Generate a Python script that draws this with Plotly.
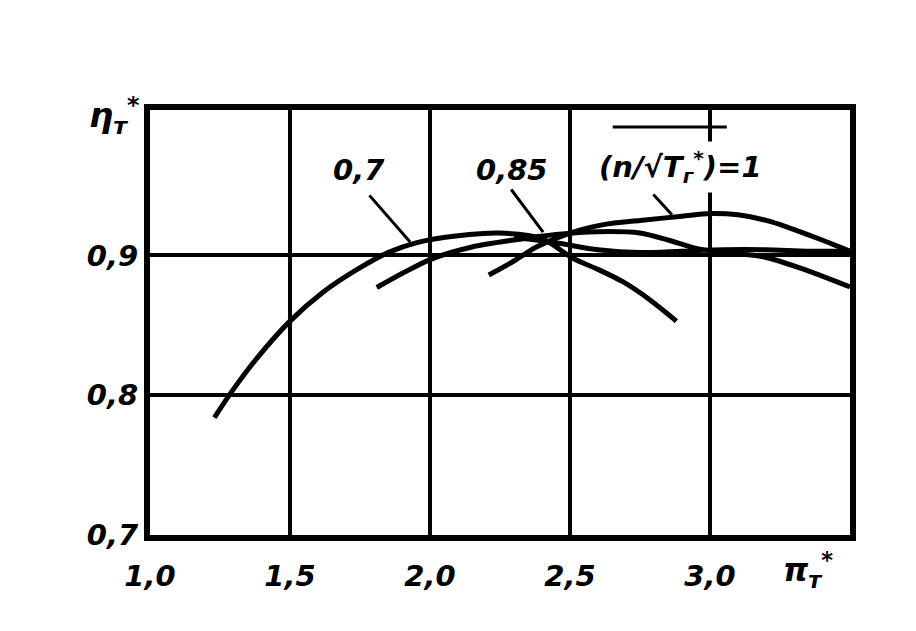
import plotly.graph_objects as go

# Data (pi_T* on x, eta_T* on y)
x_07 = [1.23, 1.29, 1.38, 1.50, 1.62, 1.74, 1.85, 1.95, 2.10, 2.25, 2.40, 2.51, 2.60, 2.69, 2.78, 2.88]
y_07 = [0.784, 0.802, 0.826, 0.853, 0.874, 0.890, 0.902, 0.909, 0.914, 0.916, 0.912, 0.898, 0.890, 0.881, 0.869, 0.853]

x_085 = [1.81, 1.90, 2.00, 2.15, 2.30, 2.45, 2.60, 2.75, 2.85, 2.95, 3.05, 3.19, 3.35, 3.50]
y_085 = [0.877, 0.887, 0.897, 0.906, 0.911, 0.915, 0.917, 0.916, 0.911, 0.905, 0.902, 0.899, 0.889, 0.8775]

x_1 = [2.21, 2.30, 2.38, 2.50, 2.62, 2.75, 2.90, 3.00, 3.10, 3.22, 3.32, 3.40, 3.50]
y_1 = [0.886, 0.896, 0.906, 0.916, 0.922, 0.925, 0.928, 0.930, 0.929, 0.924, 0.917, 0.911, 0.903]

# unlabeled branch visible in the reference (flat line near 0.903 on the right)
x_branch = [2.30, 2.45, 2.60, 2.75, 2.90, 3.05, 3.20, 3.35, 3.50]
y_branch = [0.913, 0.909, 0.904, 0.902, 0.903, 0.904, 0.904, 0.903, 0.903]

x_tickvals = [1.0, 1.5, 2.0, 2.5, 3.0]
x_ticktext = ["1,0", "1,5", "2,0", "2,5", "3,0"]
y_tickvals = [0.7, 0.8, 0.9]
y_ticktext = ["0,7", "0,8", "0,9"]

FONT = dict(family="DejaVu Sans", size=29, color="black", weight="bold", style="italic")

fig = go.Figure()
for xs, ys in [(x_07, y_07), (x_085, y_085), (x_1, y_1), (x_branch, y_branch)]:
    fig.add_trace(go.Scatter(x=xs, y=ys, mode="lines",
                             line=dict(color="black", width=5, shape="spline", smoothing=0.8),
                             showlegend=False, hoverinfo="skip"))

# curve labels
labels = [
    ("0,7", 1.746, 0.961),
    ("0,85", 2.293, 0.961),
    ("(n/√T<sub>г</sub><sup>*</sup>)=1", 2.896, 0.963),
]
for txt, lx, ly in labels:
    fig.add_annotation(x=lx, y=ly, text=txt, showarrow=False, font=FONT,
                       xanchor="center", yanchor="middle",
                       bgcolor="white", borderpad=4)

# leader lines
leaders = [
    (1.779, 0.944, 1.929, 0.9096),
    (2.286, 0.9482, 2.404, 0.9167),
    (2.793, 0.9446, 2.864, 0.929),
]
for tx, ty, hx, hy in leaders:
    fig.add_annotation(x=hx, y=hy, ax=tx, ay=ty, axref="x", ayref="y",
                       xref="x", yref="y", text="", showarrow=True,
                       arrowhead=0, arrowwidth=3, arrowcolor="black")

# radical vinculum over the label
fig.add_shape(type="line", xref="paper", yref="paper",
              x0=0.661, x1=0.824, y0=0.96, y1=0.96,
              line=dict(color="black", width=3))

# white gaps in the grid seen in the reference (label background, print gap)
fig.add_shape(type="rect", xref="paper", yref="paper", layer="between",
              x0=0.786, x1=0.814, y0=0.736, y1=0.936,
              fillcolor="white", line=dict(width=0))
fig.add_shape(type="rect", xref="paper", yref="paper", layer="between",
              x0=0.064, x1=0.076, y0=0.645, y1=0.672,
              fillcolor="white", line=dict(width=0))

# axis titles
fig.add_annotation(xref="paper", yref="paper", x=-0.0514, y=0.988,
                   xanchor="center", yanchor="middle",
                   text="η<sub>т</sub><sup>*</sup>", showarrow=False,
                   font=dict(FONT, size=34))
fig.add_annotation(xref="paper", yref="paper", x=0.94, y=-0.082,
                   xanchor="center", yanchor="middle",
                   text="π<sub>т</sub><sup>*</sup>", showarrow=False,
                   font=dict(FONT, size=32))

fig.update_xaxes(range=[1.0, 3.5], tickvals=x_tickvals, ticktext=x_ticktext,
                 showgrid=True, gridcolor="black", gridwidth=3.5,
                 showline=True, linecolor="black", linewidth=6, mirror=True,
                 zeroline=False, ticks="", ticklabelstandoff=10,
                 tickfont=FONT)
fig.update_yaxes(range=[0.7, 1.004], tickvals=y_tickvals, ticktext=y_ticktext,
                 showgrid=True, gridcolor="black", gridwidth=3.5,
                 showline=True, linecolor="black", linewidth=6, mirror=True,
                 zeroline=False, ticks="", ticklabelstandoff=0,
                 tickfont=FONT)

fig.update_layout(width=916, height=631,
                  margin=dict(l=142, r=74, t=102, b=104),
                  paper_bgcolor="white", plot_bgcolor="white")

fig.write_html("out.html")
